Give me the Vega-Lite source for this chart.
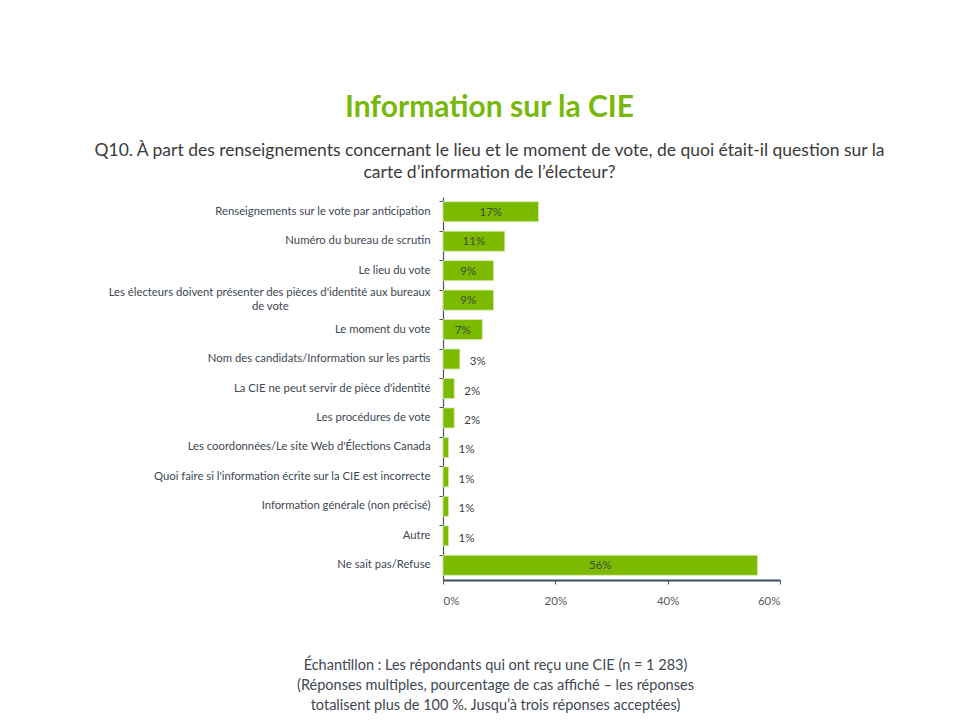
{
  "$schema": "https://vega.github.io/schema/vega-lite/v6.json",
  "width": 337,
  "height": 383,
  "autosize": {"type": "none"},
  "padding": {"left": 443, "top": 197, "right": 175, "bottom": 148},
  "background": "white",
  "config": {"view": {"stroke": null}},
  "title": {
    "text": "Information sur la CIE",
    "subtitle": ["Q10. À part des renseignements concernant le lieu et le moment de vote, de quoi était-il question sur la", "carte d’information de l’électeur?"],
    "anchor": "middle",
    "frame": "group",
    "dx": -122,
    "offset": 16,
    "font": "Lato",
    "fontSize": 30,
    "fontWeight": "bold",
    "color": "#78b80a",
    "subtitleFont": "Lato",
    "subtitleFontSize": 17.5,
    "subtitleColor": "#3a3a3a",
    "subtitleLineHeight": 22,
    "subtitlePadding": 19
  },
  "data": {
    "values": [
      {"cat": "Renseignements sur le vote par anticipation", "pct": 17},
      {"cat": "Numéro du bureau de scrutin", "pct": 11},
      {"cat": "Le lieu du vote", "pct": 9},
      {"cat": "Les électeurs doivent présenter des pièces d'identité aux bureaux|de vote\u00a0\u00a0\u00a0\u00a0\u00a0\u00a0\u00a0\u00a0\u00a0\u00a0\u00a0\u00a0\u00a0\u00a0\u00a0\u00a0\u00a0\u00a0\u00a0\u00a0\u00a0\u00a0\u00a0\u00a0\u00a0\u00a0\u00a0\u00a0\u00a0\u00a0\u00a0\u00a0\u00a0\u00a0\u00a0\u00a0\u00a0\u00a0\u00a0\u00a0\u00a0\u00a0\u00a0\u00a0\u00a0\u00a0\u00a0\u00a0\u00a0\u200b", "pct": 9},
      {"cat": "Le moment du vote", "pct": 7},
      {"cat": "Nom des candidats/Information sur les partis", "pct": 3},
      {"cat": "La CIE ne peut servir de pièce d'identité", "pct": 2},
      {"cat": "Les procédures de vote", "pct": 2},
      {"cat": "Les coordonnées/Le site Web d'Élections Canada", "pct": 1},
      {"cat": "Quoi faire si l'information écrite sur la CIE est incorrecte", "pct": 1},
      {"cat": "Information générale (non précisé)", "pct": 1},
      {"cat": "Autre", "pct": 1},
      {"cat": "Ne sait pas/Refuse", "pct": 56}
    ]
  },
  "encoding": {
    "y": {
      "field": "cat",
      "type": "nominal",
      "sort": null,
      "scale": {"paddingInner": 0.32, "paddingOuter": 0.16},
      "axis": {
        "title": null,
        "labelExpr": "split(datum.value, '|')",
        "labelFont": "Lato",
        "labelFontSize": 11.3,
        "labelColor": "#3e4752",
        "labelLimit": 400,
        "labelPadding": 9,
        "labelLineHeight": 14,
        "labelOffset": {"condition": {"test": "indexof(datum.value, '|') >= 0", "value": -7}, "value": 0},
        "bandPosition": 0,
        "ticks": true,
        "tickSize": 4,
        "tickColor": "#4a5563",
        "domainColor": "#4a5563",
        "domainWidth": 1.2,
        "grid": false
      }
    }
  },
  "layer": [
    {
      "mark": {"type": "bar", "color": "#7cba00", "stroke": "#d6ecb0", "strokeWidth": 0.8},
      "encoding": {
        "x": {
          "field": "pct",
          "type": "quantitative",
          "scale": {"domain": [0, 60]},
          "axis": {
            "values": [0, 20, 40, 60],
            "labelExpr": "datum.value + '%'",
            "labelFont": "Lato",
            "labelFontSize": 11.5,
            "labelColor": "#595959",
            "labelPadding": 11,
            "tickSize": 4,
            "tickColor": "#4a5563",
            "domainColor": "#3d4b5a",
            "domainWidth": 2,
            "grid": false,
            "title": ["Échantillon : Les répondants qui ont reçu une CIE (n = 1 283)", "(Réponses multiples, pourcentage de cas affiché – les réponses", "totalisent plus de 100 %. Jusqu’à trois réponses acceptées)"],
            "titleFont": "Lato",
            "titleFontSize": 14.5,
            "titleFontWeight": "normal",
            "titleColor": "#3e4752",
            "titleLineHeight": 20,
            "titleX": 52,
            "titleY": 78,
            "titleAlign": "center",
            "titleBaseline": "top"
          }
        }
      }
    },
    {
      "transform": [{"filter": "datum.pct >= 5"}, {"calculate": "datum.pct / 2", "as": "mid"}, {"calculate": "datum.pct + '%'", "as": "lab"}],
      "mark": {"type": "text", "font": "Lato", "fontSize": 11.5, "color": "#3f4a3a", "align": "center", "baseline": "middle", "dy": 1},
      "encoding": {
        "x": {"field": "mid", "type": "quantitative"},
        "text": {"field": "lab", "type": "nominal"}
      }
    },
    {
      "transform": [{"filter": "datum.pct < 5"}, {"calculate": "datum.pct + '%'", "as": "lab"}],
      "mark": {"type": "text", "font": "Lato", "fontSize": 11.5, "color": "#404040", "align": "left", "baseline": "middle", "dx": 10, "dy": 3},
      "encoding": {
        "x": {"field": "pct", "type": "quantitative"},
        "text": {"field": "lab", "type": "nominal"}
      }
    }
  ]
}
